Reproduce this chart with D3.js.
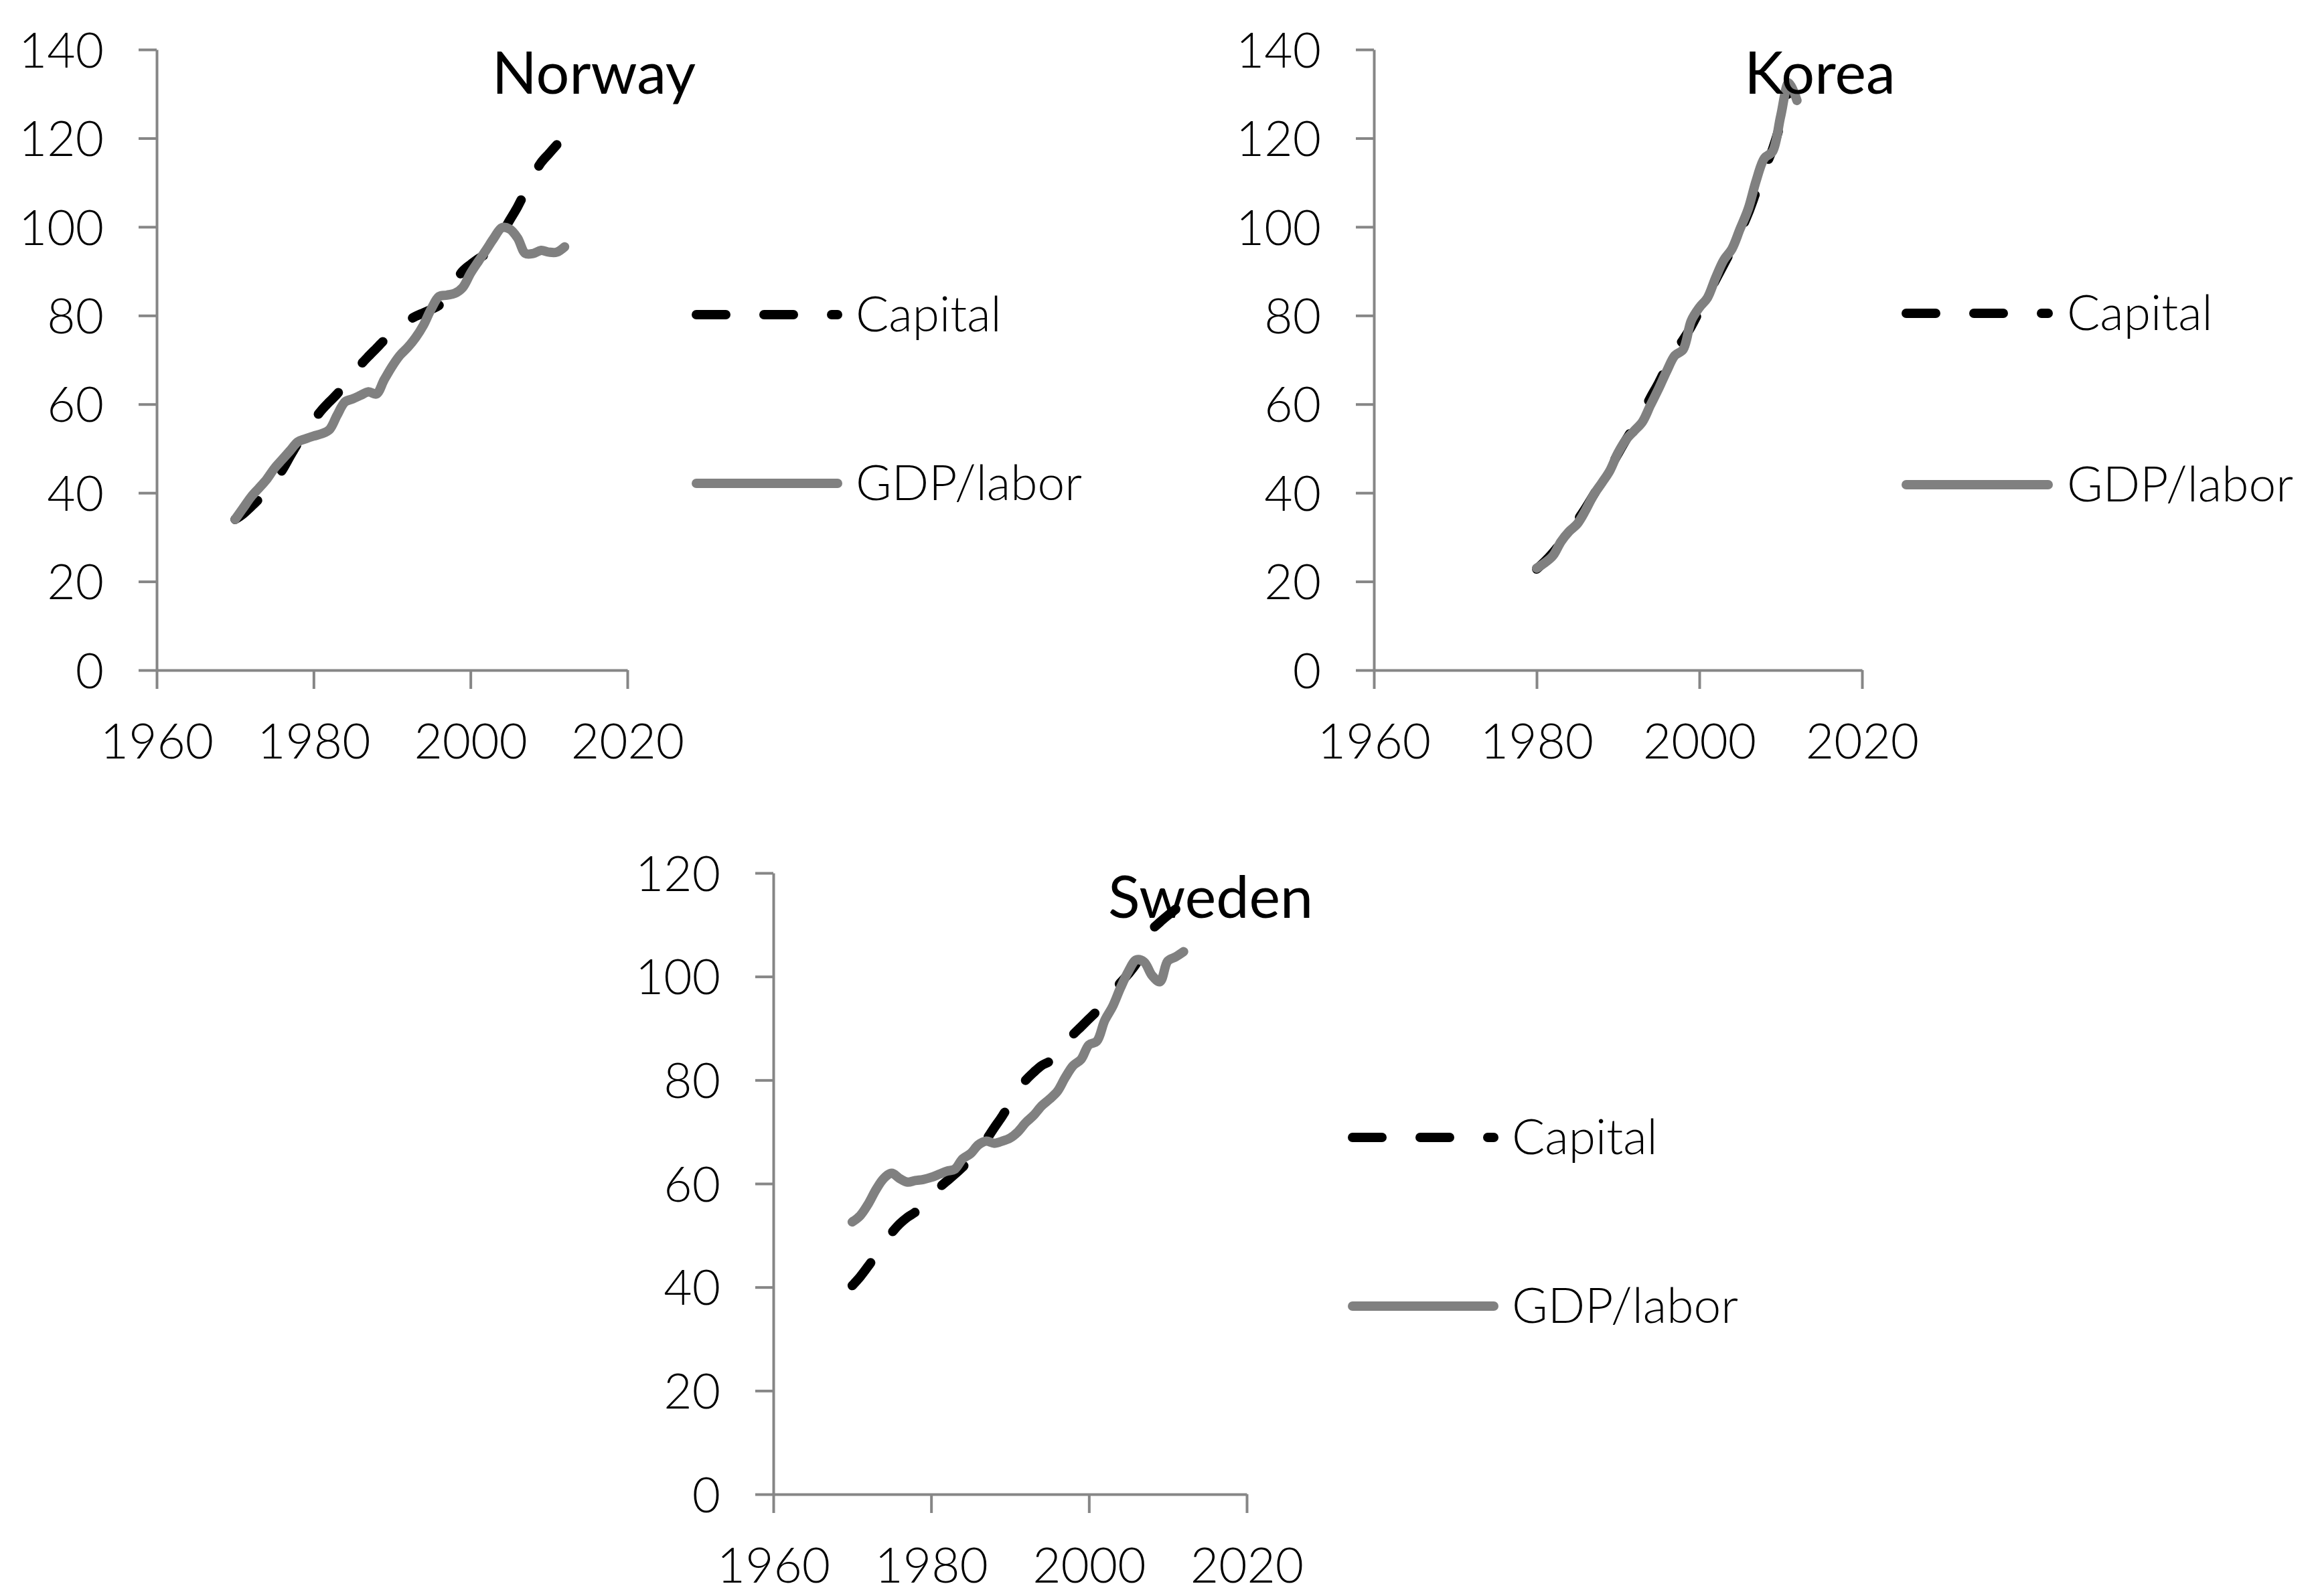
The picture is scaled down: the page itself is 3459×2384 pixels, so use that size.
<!DOCTYPE html>
<html>
<head>
<meta charset="utf-8">
<script src="https://cdn.jsdelivr.net/npm/d3@7"></script>
<style>
  body { margin: 0; background: #fff; }
  text { font-family: Lato, "Open Sans", sans-serif; fill: #000; }
</style>
</head>
<body>
<svg id="chart"></svg>
<script>
// yearly series (Capital ends one year earlier than GDP/labor)
const norwayYears = [1970,1971,1972,1973,1974,1975,1976,1977,1978,1979,1980,1981,1982,1983,1984,1985,1986,1987,1988,1989,1990,1991,1992,1993,1994,1995,1996,1997,1998,1999,2000,2001,2002,2003,2004,2005,2006,2007,2008,2009,2010,2011,2012];
const norwayGdp = [34.0,36.5,39.0,41.0,43.0,45.5,47.5,49.5,51.5,52.2,52.8,53.3,54.2,57.5,60.5,61.2,62.0,62.8,62.3,65.5,68.5,71.0,72.8,75.0,77.8,81.5,84.3,84.6,85.0,86.3,89.5,92.2,94.8,97.5,99.8,99.5,97.5,94.0,94.0,94.7,94.3,94.3,95.5];
const norwayCap = [34.0,35.2,36.8,38.5,40.5,42.8,45.1,48.2,51.2,53.8,56.3,58.6,60.5,62.3,64.5,66.7,68.9,70.8,72.6,74.4,76.0,77.5,78.8,79.8,80.6,81.4,82.3,84.5,87.5,90.0,91.5,92.8,94.0,96.0,98.5,101.5,104.5,108.0,111.5,114.5,116.5,118.5];

const koreaYears = [1980,1981,1982,1983,1984,1985,1986,1987,1988,1989,1990,1991,1992,1993,1994,1995,1996,1997,1998,1999,2000,2001,2002,2003,2004,2005,2006,2007,2008,2009,2010,2011,2012];
const koreaGdp = [23.0,24.2,25.8,29.0,31.3,33.0,36.0,39.5,42.2,45.0,49.0,52.0,54.0,56.0,59.8,63.5,67.5,71.0,72.3,78.8,81.8,84.0,88.5,92.5,95.0,99.5,104.0,110.5,115.5,117.0,125.0,132.5,128.5];
const koreaCap = [22.8,24.5,26.5,28.8,31.2,33.8,36.5,39.5,42.5,45.5,48.8,52.0,55.0,58.0,61.5,64.8,68.5,72.0,74.5,77.5,81.0,84.5,88.0,91.5,95.0,98.8,103.0,108.0,113.0,117.5,123.5,131.0];

const swedenYears = [1970,1971,1972,1973,1974,1975,1976,1977,1978,1979,1980,1981,1982,1983,1984,1985,1986,1987,1988,1989,1990,1991,1992,1993,1994,1995,1996,1997,1998,1999,2000,2001,2002,2003,2004,2005,2006,2007,2008,2009,2010,2011,2012];
const swedenGdp = [52.6,53.8,56.0,58.8,61.0,62.0,61.0,60.3,60.6,60.8,61.2,61.8,62.4,62.8,64.8,65.8,67.5,68.2,67.8,68.2,68.8,70.0,71.8,73.2,75.0,76.3,77.8,80.5,82.8,84.0,86.8,87.5,91.5,94.2,97.8,101.0,103.2,102.8,100.2,99.0,103.0,103.8,104.8];
const swedenCap = [40.3,42.0,44.0,46.2,48.5,50.5,52.2,53.5,54.5,56.0,57.8,59.2,60.5,61.8,63.2,64.8,66.5,68.5,70.8,73.0,75.5,78.0,80.0,81.5,82.8,83.6,85.0,87.0,88.8,90.3,91.8,93.3,95.0,97.0,98.8,100.5,102.5,105.5,109.0,110.5,111.8,113.0];

const xTicks = [1960, 1980, 2000, 2020];
const yTicks140 = [0, 20, 40, 60, 80, 100, 120, 140];
const yTicks120 = [0, 20, 40, 60, 80, 100, 120];
const seriesNames = ["Capital", "GDP/labor"];

const W = 3459, H = 2384;
const axisColor = "#868686";
const gdpColor = "#808080";

const svg = d3.select("#chart").attr("width", W).attr("height", H);
svg.append("rect").attr("width", W).attr("height", H).attr("fill", "#fff");

// panel placement
const panels = [
  {title: "Norway", years: norwayYears, gdp: norwayGdp, cap: norwayCap, yTicks: yTicks140,
   x0: 234, x1: 937, top: 74, bottom: 1001, titleX: 887, titleY: 140,
   legX: 1040, legX2: 1251, legTextX: 1278, legY: [470, 722]},
  {title: "Korea", years: koreaYears, gdp: koreaGdp, cap: koreaCap, yTicks: yTicks140,
   x0: 2052, x1: 2781, top: 74, bottom: 1001, titleX: 2718, titleY: 140,
   legX: 2847, legX2: 3059, legTextX: 3087, legY: [468, 724]},
  {title: "Sweden", years: swedenYears, gdp: swedenGdp, cap: swedenCap, yTicks: yTicks120,
   x0: 1155, x1: 1862, top: 1304, bottom: 2232, titleX: 1808, titleY: 1371,
   legX: 2020, legX2: 2231, legTextX: 2258, legY: [1699, 1951]}
];

panels.forEach(p => {
  const g = svg.append("g");

  const x = d3.scaleLinear().domain([1960, 2020]).range([p.x0, p.x1]);
  const y = d3.scaleLinear().domain([0, d3.max(p.yTicks)]).range([p.bottom, p.top]);

  // y axis
  const ya = g.append("g")
    .attr("transform", `translate(${p.x0},0)`)
    .call(d3.axisLeft(y).tickValues(p.yTicks).tickSize(27).tickSizeOuter(0).tickPadding(52));
  // x axis
  const xa = g.append("g")
    .attr("transform", `translate(0,${p.bottom})`)
    .call(d3.axisBottom(x).tickValues(xTicks).tickFormat(d3.format("d")).tickSize(28).tickSizeOuter(0));

  [ya, xa].forEach(a => {
    a.select(".domain").attr("stroke", axisColor).attr("stroke-width", 4);
    a.selectAll(".tick line").attr("stroke", axisColor).attr("stroke-width", 4);
    a.selectAll("text")
      .style("font-size", "73px").style("font-weight", 300)
      .attr("fill", "#000");
  });
  ya.selectAll("text").attr("dy", "0.36em");
  xa.selectAll("text").attr("y", 132).attr("dy", 0);

  const line = d3.line()
    .x((d, i) => x(p.years[i]))
    .y(d => y(d))
    .curve(d3.curveCatmullRom.alpha(0.5));

  // Capital dashed black
  g.append("path")
    .datum(p.cap)
    .attr("d", line)
    .attr("fill", "none")
    .attr("stroke", "#000")
    .attr("stroke-width", 14)
    .attr("stroke-linecap", "round")
    .attr("stroke-linejoin", "round")
    .attr("stroke-dasharray", "44,57");

  // GDP/labor solid gray
  g.append("path")
    .datum(p.gdp)
    .attr("d", line)
    .attr("fill", "none")
    .attr("stroke", gdpColor)
    .attr("stroke-width", 14)
    .attr("stroke-linecap", "round")
    .attr("stroke-linejoin", "round");

  // title
  g.append("text")
    .attr("x", p.titleX).attr("y", p.titleY)
    .attr("text-anchor", "middle")
    .style("font-size", "88px").style("font-weight", 400)
    .text(p.title);

  // legend
  seriesNames.forEach((name, i) => {
    const ly = p.legY[i];
    g.append("line")
      .attr("x1", p.legX).attr("x2", p.legX2)
      .attr("y1", ly).attr("y2", ly)
      .attr("stroke", i === 0 ? "#000" : gdpColor)
      .attr("stroke-width", 14)
      .attr("stroke-linecap", "round")
      .attr("stroke-dasharray", i === 0 ? "44,57" : null);
    g.append("text")
      .attr("x", p.legTextX).attr("y", ly + 25)
      .style("font-size", "73px").style("font-weight", 300)
      .text(name);
  });
});
</script>
</body>
</html>
